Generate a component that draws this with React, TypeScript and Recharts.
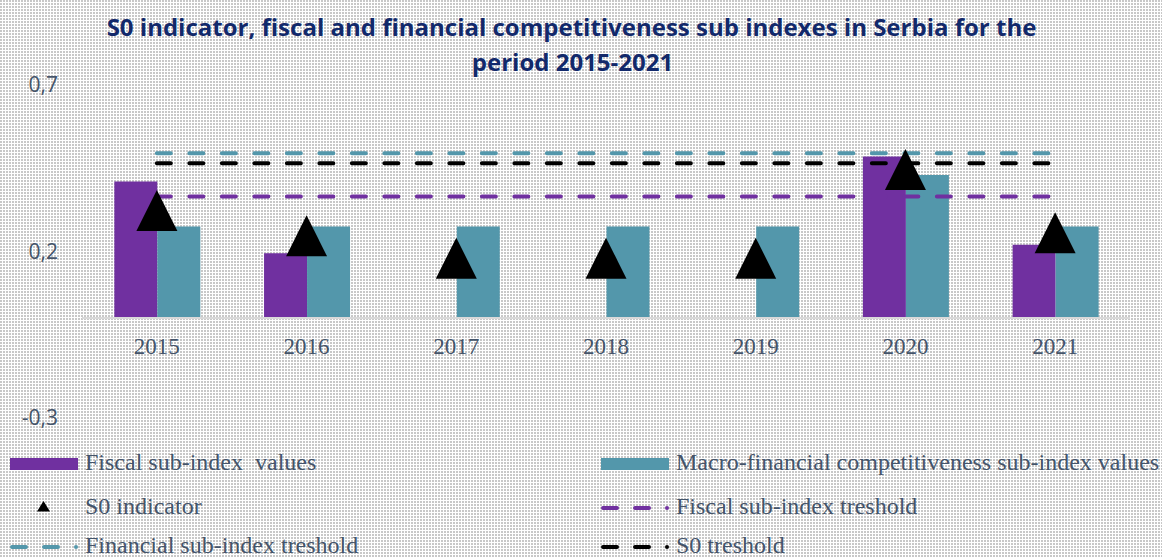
import { Bar, ComposedChart, Line, ReferenceLine, XAxis, YAxis } from "recharts"

const years = ["2015", "2016", "2017", "2018", "2019", "2020", "2021"]
const fiscalValues = [0.41, 0.195, null, null, null, 0.485, 0.22]
const macroValues = [0.275, 0.275, 0.275, 0.275, 0.275, 0.43, 0.275]
const s0Values = [0.323, 0.247, 0.18, 0.18, 0.18, 0.446, 0.256]
const fiscalThreshold = 0.365
const financialThreshold = 0.495
const s0Threshold = 0.465
const yTicks = [-0.3, 0.2, 0.7]

const W = 1162
const H = 558
const PLOT_TOP = 85
const PLOT_BOTTOM = 418
const Y_MIN = -0.3
const Y_MAX = 0.7

const PURPLE = "#7030A0"
const TEAL = "#5397AB"
const INK = "#44546A"
const TITLE = "#12296B"
const SERIF = "'Liberation Serif', 'Times New Roman', serif"
const SANS = "'Open Sans', 'Noto Sans', sans-serif"

const rows = years.map((year, i) => ({
  year,
  fiscal: fiscalValues[i],
  macro: macroValues[i],
  s0: s0Values[i],
  fiscalT: fiscalThreshold,
  finT: financialThreshold,
  s0T: s0Threshold,
}))

const legendItems = [
  { label: "Fiscal sub-index  values", kind: "rect", color: PURPLE, col: 0, row: 0 },
  { label: "Macro-financial competitiveness sub-index values", kind: "rect", color: TEAL, col: 1, row: 0 },
  { label: "S0 indicator", kind: "tri", color: "#000", col: 0, row: 1 },
  { label: "Fiscal sub-index treshold", kind: "dash", color: PURPLE, col: 1, row: 1 },
  { label: "Financial sub-index treshold", kind: "dash", color: TEAL, col: 0, row: 2 },
  { label: "S0 treshold", kind: "dash", color: "#000", col: 1, row: 2 },
]
const legendCols = [10, 601]
const legendRows = [470, 514, 553]

// distance from plot bottom up to the zero line, where Excel puts the category labels
const zeroShift = ((PLOT_BOTTOM - PLOT_TOP) * (0 - Y_MIN)) / (Y_MAX - Y_MIN)

function YearTick(props: { x?: number; y?: number; payload?: { value: string } }) {
  const { x = 0, y = 0, payload } = props
  return (
    <text x={x} y={y - zeroShift + 36} textAnchor="middle" fill={INK} fontSize={23} fontFamily={SERIF}>
      {payload?.value}
    </text>
  )
}

function renderTriangle(props: { cx?: number; cy?: number; index?: number; value?: number | null }) {
  const { cx, cy, index } = props
  if (cx == null || cy == null) return <g key={`t-${index}`} />
  const w = 41
  const h = 41
  return (
    <path
      key={`t-${index}`}
      d={`M${cx},${cy - h / 2} L${cx + w / 2},${cy + h / 2} L${cx - w / 2},${cy + h / 2} Z`}
      fill="#000"
    />
  )
}

function LegendSymbol({ kind, color, x, base }: { kind: string; color: string; x: number; base: number }) {
  if (kind === "rect") return <rect x={x} y={base - 12} width={68} height={12} fill={color} />
  if (kind === "tri")
    return <path d={`M${x + 33.5},${base - 13} L${x + 40},${base - 2.5} L${x + 27},${base - 2.5} Z`} fill={color} />
  return (
    <g>
      <line x1={x} y1={base - 6} x2={x + 50} y2={base - 6} stroke={color} strokeWidth={4} strokeDasharray="14 18" strokeLinecap="round" transform={`translate(2,0)`} />
      <circle cx={x + 66} cy={base - 6} r={2} fill={color} />
    </g>
  )
}

export default function App() {
  return (
    <div
      style={{
        position: "absolute",
        left: 0,
        top: 0,
        width: W,
        height: H,
        backgroundColor: "#fff",
        backgroundImage: "radial-gradient(circle at 1px 1px, #c8c8c8 0.9px, transparent 1.2px)",
        backgroundSize: "3px 3px",
      }}
    >
      <ComposedChart
        width={W}
        height={H}
        data={rows}
        margin={{ top: PLOT_TOP, right: 32, bottom: 110, left: 0 }}
        barCategoryGap="21.6%"
        barGap={0}
      >
        <XAxis
          dataKey="year"
          height={30}
          axisLine={false}
          tickLine={false}
          tickSize={0}
          tickMargin={0}
          interval={0}
          tick={<YearTick />}
        />
        <YAxis
          domain={[Y_MIN, Y_MAX]}
          ticks={yTicks}
          width={82}
          axisLine={false}
          tickLine={false}
          tickSize={0}
          tickMargin={24}
          tickFormatter={(v: number) => String(v).replace(".", ",")}
          tick={{ fill: INK, fontSize: 21, fontFamily: SANS }}
        />
        <ReferenceLine y={0} stroke="#D9D9D9" strokeWidth={2} />
        <Bar dataKey="fiscal" fill={PURPLE} isAnimationActive={false} />
        <Bar dataKey="macro" fill={TEAL} isAnimationActive={false} />
        <Line dataKey="fiscalT" stroke={PURPLE} strokeWidth={4} strokeDasharray="14 18.5" strokeLinecap="round" dot={false} activeDot={false} isAnimationActive={false} />
        <Line dataKey="finT" stroke={TEAL} strokeWidth={4} strokeDasharray="14 18.5" strokeLinecap="round" dot={false} activeDot={false} isAnimationActive={false} />
        <Line dataKey="s0T" stroke="#000" strokeWidth={4} strokeDasharray="14 18.5" strokeLinecap="round" dot={false} activeDot={false} isAnimationActive={false} />
        <Line dataKey="s0" stroke="none" dot={renderTriangle} activeDot={false} isAnimationActive={false} />
      </ComposedChart>

      <svg width={W} height={H} style={{ position: "absolute", left: 0, top: 0, pointerEvents: "none" }}>
        <text x={571.5} y={36} textAnchor="middle" fill={TITLE} fontSize={24} fontWeight={700} fontFamily={SANS}>
          S0 indicator, fiscal and financial competitiveness sub indexes in Serbia for the
        </text>
        <text x={572.5} y={71} textAnchor="middle" fill={TITLE} fontSize={24} fontWeight={700} fontFamily={SANS}>
          period 2015-2021
        </text>
        {legendItems.map((it) => {
          const x = legendCols[it.col]
          const base = legendRows[it.row]
          return (
            <g key={it.label}>
              <LegendSymbol kind={it.kind} color={it.color} x={x} base={base} />
              <text x={x + 75} y={base} fill={INK} fontSize={24} fontFamily={SERIF} style={{ whiteSpace: "pre" }}>
                {it.label}
              </text>
            </g>
          )
        })}
      </svg>
    </div>
  )
}
